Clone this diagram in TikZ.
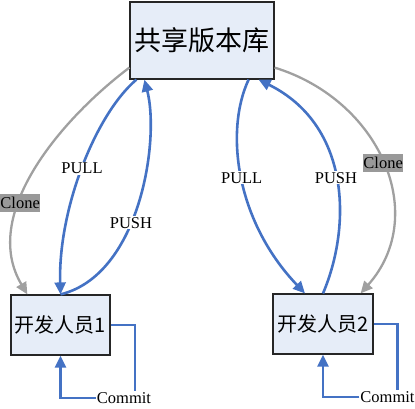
\documentclass[tikz,border=0pt]{standalone}
\usepackage{fontspec}
\setmainfont{Liberation Serif}
\newfontfamily\cjk{Noto Sans CJK SC}
\usetikzlibrary{arrows.meta}
\definecolor{boxfill}{HTML}{E6EDF8}
\definecolor{gitblue}{HTML}{4472C4}
\definecolor{clonegray}{HTML}{A0A0A0}
\definecolor{tagfill}{HTML}{999999}

\begin{document}
\begin{tikzpicture}[x=1pt,y=-1pt,>={Triangle[length=12pt,width=11pt]},
            store/.style={draw=black!85,line width=1.2pt,fill=boxfill,inner sep=0pt},
            flow/.style={->,draw=gitblue,line width=2.6pt},
            wire/.style={draw=gitblue,line width=2.6pt},
            clone/.style={->,draw=clonegray,line width=2.3pt},
            tag/.style={font=\fontsize{16.5}{18}\selectfont,fill=white,inner sep=1pt},
            clonetag/.style={tag,fill=tagfill,inner xsep=0.5pt,inner ysep=3pt}]

          \useasboundingbox (0,0) rectangle (415,408);

          \node[store,minimum width=144pt,minimum height=77pt,font=\cjk\fontsize{27}{30}\selectfont]
                (repo) at (202,40.5) {共享版本库};
          \node[store,minimum width=99pt,minimum height=60pt,font=\cjk\fontsize{20}{24}\selectfont]
                (dev1) at (60.5,325) {开发人员1};
          \node[store,minimum width=100pt,minimum height=60pt,font=\cjk\fontsize{20}{24}\selectfont]
                (dev2) at (323,324) {开发人员2};
          \node[tag] (commit1) at (124,398) {Commit};
          \node[tag] (commit2) at (387.5,397) {Commit};

          % left side
          \draw[clone] ([yshift=12pt]repo.south west) .. controls (60,120) and (-20,215) ..
                ([xshift=17pt]dev1.north west) node[clonetag,pos=0.63] {Clone};
          \draw[flow] ([xshift=7pt]repo.south west) .. controls (95,115) and (58,210) ..
                (dev1.north) node[tag,pos=0.5] {PULL};
          \draw[flow] (dev1.north) .. controls (140,275) and (160,140) ..
                ([xshift=15pt]repo.south west) node[tag,pos=0.42] {PUSH};

          % right side
          \draw[flow] ([xshift=-26pt]repo.south east) .. controls (225,130) and (235,220) ..
                ([xshift=-18pt]dev2.north) node[tag,pos=0.5] {PULL};
          \draw[flow] (dev2.north) .. controls (352,225) and (350,125) ..
                ([xshift=-16pt]repo.south east) node[tag,pos=0.5] {PUSH};
          \draw[clone] ([yshift=12pt]repo.south east) .. controls (380,100) and (430,215) ..
                ([xshift=-13pt]dev2.north east) node[clonetag,pos=0.5] {Clone};

          % commits
          \draw[wire] (dev1.east) -| ([xshift=11pt]commit1.north);
          \draw[flow] (commit1.west) -| (dev1.south);
          \draw[wire] (dev2.east) -| ([xshift=10pt]commit2.north);
          \draw[flow] (commit2.west) -| (dev2.south);
        \end{tikzpicture}
\end{document}
